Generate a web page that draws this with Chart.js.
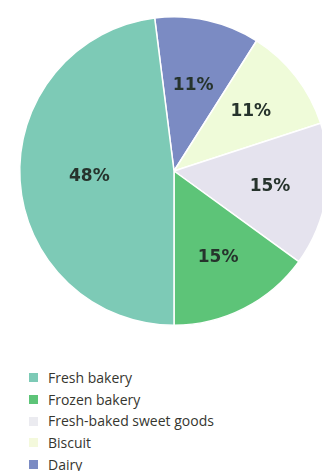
<!DOCTYPE html>
<html lang="en">
<head>
    <meta charset="UTF-8">
    <title>Bakery market share</title>
    <script src="https://cdn.jsdelivr.net/npm/chart.js@4"></script>
    <style>
        body{
            margin:0;
            background:#fff;
        }
        #wrap{
            position:relative;
            width:322px;
            height:471px;
            overflow:hidden;
        }
        #pieChart{
            position:absolute;
            left:0;
            top:0;
        }
        #legend{
            position:absolute;
            left:29px;
            top:367px;
            margin:0;
            padding:0;
            list-style:none;
            font-family:"Open Sans", sans-serif;
            font-size:14px;
            color:#36362f;
        }
        #legend li{
            height:21.7px;
            line-height:21.7px;
            display:flex;
            align-items:center;
        }
        #legend span{
            display:inline-block;
            width:9px;
            height:9px;
            margin-right:10px;
        }
    </style>
</head>
<body>
    <div id="wrap">
        <canvas id="pieChart" width="348" height="342"></canvas>
        <ul id="legend"></ul>
    </div>

    <script>
        // legend order (the pie runs the other way round, see below)
        const categories = ['Fresh bakery', 'Frozen bakery', 'Fresh-baked sweet goods', 'Biscuit', 'Dairy']
        const shares = [48, 15, 15, 11, 11]
        const colors = ['#7dcab6', '#5dc478', '#e5e3ee', '#effbd9', '#7b8bc3']
        const legendColors = ['#7dcab6', '#5dc478', '#ebebf0', '#f4f9dc', '#7b8bc3']

        // how far out each percentage sits, as a share of the radius
        const labelPos = [0.55, 0.63, 0.63, 0.63, 0.57]

        // slices go clockwise from Dairy, so feed the data reversed
        const rev = arr => arr.slice().reverse()

        const pctLabels = {
            id: 'pctLabels',
            afterDatasetsDraw(chart){
                const ctx = chart.ctx
                const meta = chart.getDatasetMeta(0)
                const pos = rev(labelPos)
                ctx.save()
                ctx.font = 'bold 17px "DejaVu Sans", sans-serif'
                ctx.fillStyle = '#26332c'
                ctx.textAlign = 'center'
                ctx.textBaseline = 'middle'
                meta.data.forEach((arc, i) => {
                    const mid = (arc.startAngle + arc.endAngle) / 2
                    const r = arc.outerRadius * pos[i]
                    const x = arc.x + Math.cos(mid) * r
                    const y = arc.y + Math.sin(mid) * r
                    ctx.fillText(chart.data.datasets[0].data[i] + '%', x, y)
                })
                ctx.restore()
            }
        }

        const ctx = document.getElementById('pieChart').getContext('2d')
        const pieChart = new Chart(ctx, {
            type: 'pie',
            data: {
                labels: rev(categories),
                datasets: [{
                    data: rev(shares),
                    backgroundColor: rev(colors),
                    borderColor: '#ffffff',
                    borderWidth: 1.5
                }]
            },
            options: {
                responsive: false,
                animation: false,
                rotation: -7.2,
                layout: { padding: { left: 19, right: 19, top: 16, bottom: 16 } },
                plugins: {
                    legend: { display: false },
                    tooltip: { enabled: false }
                }
            },
            plugins: [pctLabels]
        })

        // list legend, top to bottom in the original order
        const ul = document.getElementById('legend')
        categories.forEach((name, i) => {
            const li = document.createElement('li')
            const box = document.createElement('span')
            box.style.background = legendColors[i]
            li.appendChild(box)
            li.appendChild(document.createTextNode(name))
            ul.appendChild(li)
        })
    </script>
</body>
</html>
